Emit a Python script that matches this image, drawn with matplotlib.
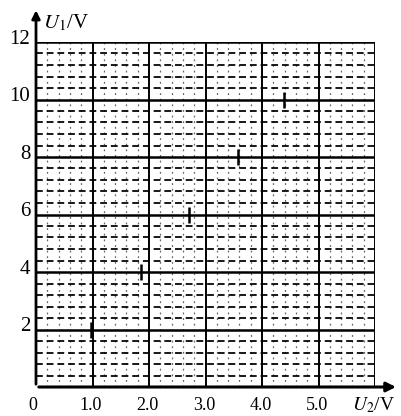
import numpy as np
import matplotlib.pyplot as plt

# data
u2_pts = [0.97, 1.86, 2.71, 3.57, 4.39]
u1_pts = [2, 4, 6, 8, 10]

x_major = [0, 1, 2, 3, 4, 5, 6]
y_major = [0, 2, 4, 6, 8, 10, 12]
x_labels = ['0', '1.0', '2.0', '3.0', '4.0', '5.0']
y_labels = ['2', '4', '6', '8', '10', '12']

plt.rcParams['font.family'] = ['Liberation Serif', 'DejaVu Serif']
plt.rcParams['mathtext.fontset'] = 'stix'

fig = plt.figure(figsize=(4.01, 4.16), dpi=100)
ax = fig.add_axes([36/401, 29/416, 339/401, 345/416])
ax.set_xlim(0, 6)
ax.set_ylim(0, 12)
ax.axis('off')

# minor dashed grid
for xv in np.arange(0.2, 6, 0.2):
    if abs(xv - round(xv)) > 1e-6:
        ax.axvline(xv, color='k', lw=0.9, ls=(0, (1.5, 3)), alpha=0.6)
for yv in np.arange(0.4, 12, 0.4):
    if abs(yv / 2 - round(yv / 2)) > 1e-6:
        ax.axhline(yv, color='k', lw=1.4, ls=(0, (3.5, 2)), alpha=0.9)

# major grid
for xv in x_major[1:]:
    ax.axvline(xv, color='k', lw=1.4)
for yv in y_major[1:]:
    ax.axhline(yv, color='k', lw=1.8)

# axes with arrows
ax.annotate('', xy=(6.42, 0), xytext=(0, 0), xycoords='data',
            arrowprops=dict(arrowstyle='-|>', color='k', lw=2.2, mutation_scale=14),
            annotation_clip=False)
ax.annotate('', xy=(0, 13.2), xytext=(0, 0), xycoords='data',
            arrowprops=dict(arrowstyle='-|>', color='k', lw=2.0, mutation_scale=12),
            annotation_clip=False)

# data marks
ax.plot(u2_pts, u1_pts, ls='none', marker='|', ms=12, mew=1.8, color='k', clip_on=False)

# tick labels
for yv, lab in zip(y_major[1:], y_labels):
    ax.text(-0.1, yv + 0.1, lab, ha='right', va='center', fontsize=15)
for xv, lab in zip(x_major[:-1], x_labels):
    ax.text(xv - 0.05 if xv == 0 else xv - 0.03, -0.35, lab, ha='center', va='top', fontsize=13)

ax.text(0.12, 12.3, '$U_1$/V', ha='left', va='bottom', fontsize=15)
ax.text(5.6, -0.3, '$U_2$/V', ha='left', va='top', fontsize=14)

fig.savefig('out.png', dpi=100)
